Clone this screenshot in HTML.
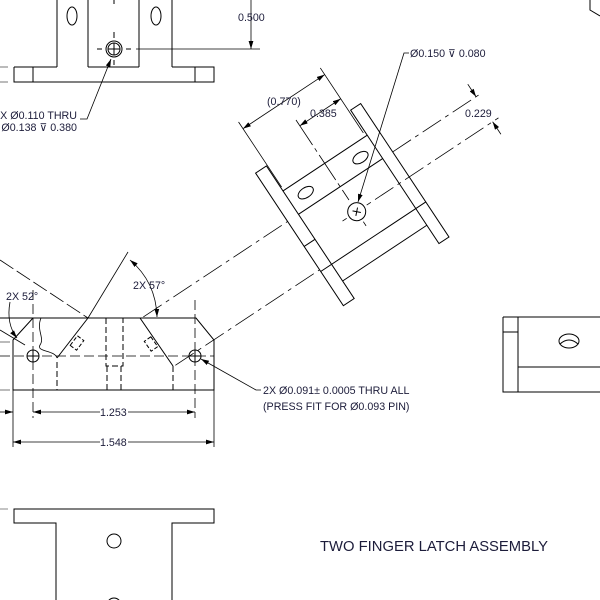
<!DOCTYPE html>
<html><head><meta charset="utf-8"><style>
html,body{margin:0;padding:0;background:#fff;}
svg{display:block;}
text{font-family:"Liberation Sans",sans-serif;font-size:10.7px;fill:#1c1c3a;}
</style></head><body>
<svg width="600" height="600" viewBox="0 0 600 600" xmlns="http://www.w3.org/2000/svg">
<defs>
<marker id="a" viewBox="0 0 10 6" refX="10" refY="3" markerWidth="8" markerHeight="5" markerUnits="userSpaceOnUse" orient="auto-start-reverse"><path d="M0,0 L10,3 L0,6 Z" fill="#000"/></marker>
</defs>
<g fill="none" stroke="#000" stroke-width="1">
<!-- TOP VIEW -->
<path d="M57,0 V67 M88,0 V67 M139,0 V67 M172,0 V67"/>
<ellipse cx="72" cy="16" rx="5" ry="9"/>
<ellipse cx="156" cy="16" rx="5" ry="9"/>
<path d="M14,67 H57 M88,67 H139 M172,67 H214 V82 H14 V67 M33,67 V82 M195,67 V82"/>
<path d="M0,67 H8 M0,82 H8" stroke="#777"/>
<circle cx="114" cy="49" r="8"/><circle cx="114" cy="49" r="6"/>
<path d="M108,49 H120 M114,43 V55"/>
<path d="M114,0 V4 M114,32 V38 M97,49 H102 M126,49 H131 M114,60 V65" />
<path d="M136,49 H260" stroke-width="0.8"/>
<path d="M251,0 V49" stroke-width="0.8" marker-end="url(#a)"/>
<path d="M80,119 H87 L111,59" stroke-width="0.8" marker-end="url(#a)"/>
<path d="M590,0 V10 L600,16"/>

<!-- ROTATED PART -->
<g transform="translate(356.7,211.7) rotate(-33.5)">
<rect x="-63" y="-88" width="13" height="159"/>
<rect x="51" y="-88" width="12" height="160"/>
<path d="M-50,-58 H51 M-50,-30 H51 M-63,0 H-50 M-63,30 H63 M-50,50 H51"/>
<ellipse cx="-32" cy="-44" rx="8.5" ry="5"/>
<ellipse cx="33" cy="-43" rx="8.5" ry="5"/>
<circle cx="0" cy="0" r="9"/>
<path d="M-3,-3 L3,3 M-3,3 L3,-3"/>
<path d="M-17,0 H-12 M12,0 H17 M0,12 V17" stroke-width="0.8"/>
<path d="M22,0 H170" stroke-width="0.8" stroke-dasharray="22 5 4 5"/>
<path d="M-236,-30 H-63" stroke-width="0.8" stroke-dasharray="22 5 4 5"/>
<path d="M63,-30 H170" stroke-width="0.8" stroke-dasharray="22 5 4 5"/>
<path d="M-236,28 H-63" stroke-width="0.8" stroke-dasharray="22 5 4 5"/>
<path d="M-49,-62 V-140 M49,-62 V-140" stroke-width="0.8"/>
<path d="M0,-110 V-14" stroke-width="0.8" stroke-dasharray="30 4 4 4"/>
<path d="M-49,-132 H49" stroke-width="0.8" marker-start="url(#a)" marker-end="url(#a)"/>
<path d="M0,-103 H49" stroke-width="0.8" marker-start="url(#a)" marker-end="url(#a)"/>
<path d="M163,-45 V-30" stroke-width="0.8" marker-end="url(#a)"/>
<path d="M163,15 V0" stroke-width="0.8" marker-end="url(#a)"/>
</g>
<path d="M409,53 H404 L358,202" stroke-width="0.8" marker-end="url(#a)"/>

<!-- FRONT VIEW -->
<path d="M33,318 H196 L214,340 V390 H13 V340 Z"/>
<path d="M0,318 H33"/>
<path d="M0,342 H10 M0,390 H10" stroke="#777"/>
<path d="M0,330 L25,345" stroke-width="0.8"/>
<path d="M88,318 L57,358" />
<path d="M57,362 V390" stroke-dasharray="6 3"/>
<path d="M140,318 L173,366" />
<path d="M173,366 V390" stroke-dasharray="6 3"/>
<path d="M41,318 C36,330 45,338 40,345 C36,352 55,350 57,358" stroke-width="0.8"/>
<path d="M106,318 V366 H123 V318 M107,366 V390 M121,366 V390" stroke-dasharray="6 3"/>
<g transform="translate(77,343) rotate(-53)" stroke-dasharray="4 2"><rect x="-6" y="-4" width="12" height="8"/></g>
<g transform="translate(151,344) rotate(55)" stroke-dasharray="4 2"><rect x="-6" y="-4" width="12" height="8"/></g>
<circle cx="33" cy="356" r="6"/><path d="M27,356 H39 M33,350 V362"/>
<circle cx="195" cy="356" r="6"/><path d="M189,356 H201 M195,350 V362"/>
<path d="M0,356 H214" stroke-width="0.8" stroke-dasharray="10 4"/>
<path d="M33,290 V418 M195,300 V418" stroke-width="0.8" stroke-dasharray="10 4"/>
<path d="M13,390 V447 M214,390 V447" stroke-width="0.8"/>
<path d="M0,412 H13" stroke-width="0.8" marker-end="url(#a)"/>
<path d="M33,412 H100" stroke-width="0.8" marker-start="url(#a)"/>
<path d="M128,412 H195" stroke-width="0.8" marker-end="url(#a)"/>
<path d="M13,442 H100" stroke-width="0.8" marker-start="url(#a)"/>
<path d="M128,442 H214" stroke-width="0.8" marker-end="url(#a)"/>
<path d="M0,260 L88,318" stroke-width="0.8" stroke-dasharray="16 4"/>
<path d="M88,318 L128,252" stroke-width="0.8"/>
<path d="M10,302 Q6,324 17,338" stroke-width="0.8" marker-end="url(#a)"/>
<path d="M130,260 Q156,282 157,317" stroke-width="0.8" marker-start="url(#a)" marker-end="url(#a)"/>
<path d="M261,390 H256 L201,359" stroke-width="0.8" marker-end="url(#a)"/>

<!-- RIGHT VIEW -->
<path d="M503,317 H600 M503,317 V392 H600 M518,317 V392 M503,332 H518 M518,367 H600"/>
<ellipse cx="569" cy="341" rx="10" ry="7"/>
<path d="M560,344 Q569,336 578,344"/>

<!-- BOTTOM VIEW -->
<path d="M56,600 V523 H14 V509 H214 V523 H172 V600"/>
<path d="M0,509 H8" stroke="#888"/>
<circle cx="114" cy="541" r="7"/>
<circle cx="114" cy="605" r="7"/>
</g>

<text x="238" y="21">0.500</text>
<text x="77" y="119" text-anchor="end">2X Ø0.110 THRU</text>
<text x="77" y="131" text-anchor="end">Ø0.138 ⊽ 0.380</text>
<text x="410" y="57">Ø0.150 ⊽ 0.080</text>
<text x="267" y="105">(0.770)</text>
<text x="310" y="117">0.385</text>
<text x="465" y="117">0.229</text>
<text x="6" y="300">2X 52°</text>
<text x="133" y="289">2X 57°</text>
<text x="100" y="416">1.253</text>
<text x="100" y="446">1.548</text>
<text x="263" y="394">2X Ø0.091± 0.0005 THRU ALL</text>
<text x="263" y="410">(PRESS FIT FOR Ø0.093 PIN)</text>
<text x="320" y="551" style="font-size:14.5px" textLength="228" lengthAdjust="spacingAndGlyphs">TWO FINGER LATCH ASSEMBLY</text>
</svg>
</body></html>
